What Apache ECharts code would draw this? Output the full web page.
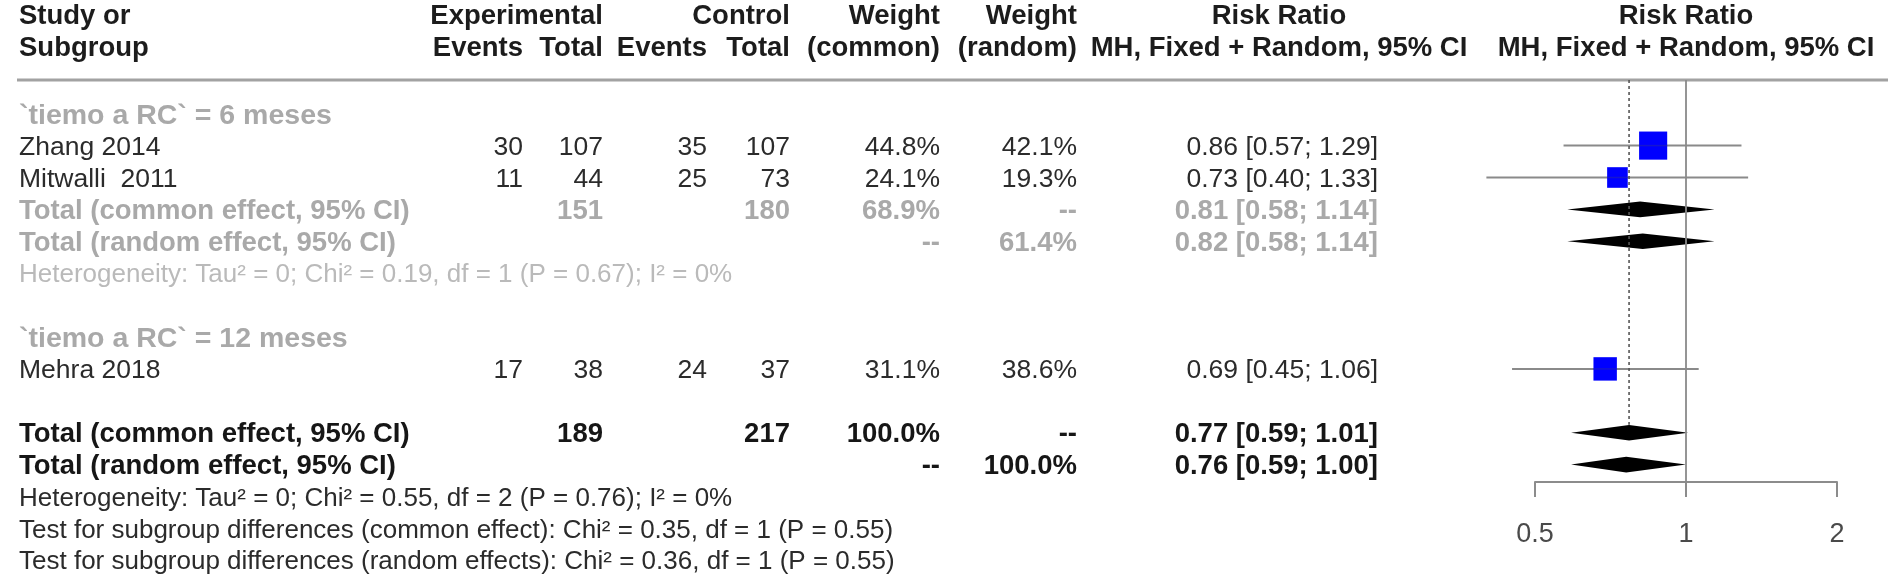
<!DOCTYPE html>
<html><head><meta charset="utf-8">
<script src="https://cdn.jsdelivr.net/npm/echarts@6/dist/echarts.min.js"></script>
<style>html,body{margin:0;padding:0;background:#fff}#c{width:1895px;height:588px}</style>
</head><body><div id="c"></div>
<script>
// ---------------- data ----------------
const studies      = ['Zhang 2014', 'Mitwalli  2011', 'Mehra 2018'];
const expEvents    = [30, 11, 17];
const expTotal     = [107, 44, 38];
const ctrlEvents   = [35, 25, 24];
const ctrlTotal    = [107, 73, 37];
const weightCommon = [44.8, 24.1, 31.1];
const weightRandom = [42.1, 19.3, 38.6];
const rr           = [0.86, 0.73, 0.69];
const rrLower      = [0.57, 0.40, 0.45];
const rrUpper      = [1.29, 1.33, 1.06];

const subgroupLabels = ['`tiemo a RC` = 6 meses', '`tiemo a RC` = 12 meses'];
const sub6ExpTotal  = 151;
const sub6CtrlTotal = 180;
const sub6Common    = [0.81, 0.58, 1.14];
const sub6Random    = [0.82, 0.58, 1.14];
const sub6WeightCommon = 68.9;
const sub6WeightRandom = 61.4;
const sub6Het = 'Heterogeneity: Tau² = 0; Chi² = 0.19, df = 1 (P = 0.67); I² = 0%';

const overallExpTotal  = 189;
const overallCtrlTotal = 217;
const overallCommon    = [0.77, 0.59, 1.01];
const overallRandom    = [0.76, 0.59, 1.00];
const overallWeight    = 100.0;
const footerLines = [
  'Heterogeneity: Tau² = 0; Chi² = 0.55, df = 2 (P = 0.76); I² = 0%',
  'Test for subgroup differences (common effect): Chi² = 0.35, df = 1 (P = 0.55)',
  'Test for subgroup differences (random effects): Chi² = 0.36, df = 1 (P = 0.55)'
];
const axisTicks = [0.5, 1, 2];

// ---------------- layout ----------------
const FONT = '"Liberation Sans", Arial, Helvetica, sans-serif';
const ROW0 = 18, ROWH = 31.9;           // px of row 0, row height
const H = 588, W = 1895;
const rowOf = px => (px - ROW0) / ROWH;
const COL = {study: 19, expEv: 523, expTot: 603, ctrlEv: 707, ctrlTot: 790,
             wC: 940, wR: 1077, rrText: 1378, rrHead: 1279, plotHead: 1686};
const studyRows = [4, 5, 11];
const ROWS = {sub6: 3, sub6C: 6, sub6R: 7, sub6Het: 8, sub12: 10, allC: 13, allR: 14, foot: 15};
const BLACK = '#2b2b2b', HEAD = '#1c1c1c', GRAY = '#a9a9a9', LGRAY = '#bababa';
const TEXT_DY = 2, HEAD_DY = -1.5;

const fmtW = w => w.toFixed(1) + '%';
const fmtRR = (e, l, u) => e.toFixed(2) + ' [' + l.toFixed(2) + '; ' + u.toFixed(2) + ']';

const cells = [];
function cell(x, row, text, align, opt) {
  cells.push(Object.assign({x, row, text: String(text), align, bold: false, color: BLACK}, opt || {}));
}
// headers
const hb = {bold: true, color: HEAD};
cell(COL.study, 0, 'Study or', 'left', hb);
cell(COL.study, 1, 'Subgroup', 'left', hb);
cell(COL.expTot, 0, 'Experimental', 'right', hb);
cell(COL.expEv, 1, 'Events', 'right', hb);
cell(COL.expTot, 1, 'Total', 'right', hb);
cell(COL.ctrlTot, 0, 'Control', 'right', hb);
cell(COL.ctrlEv, 1, 'Events', 'right', hb);
cell(COL.ctrlTot, 1, 'Total', 'right', hb);
cell(COL.wC, 0, 'Weight', 'right', hb);
cell(COL.wC, 1, '(common)', 'right', hb);
cell(COL.wR, 0, 'Weight', 'right', hb);
cell(COL.wR, 1, '(random)', 'right', hb);
cell(COL.rrHead, 0, 'Risk Ratio', 'center', hb);
cell(COL.rrHead, 1, 'MH, Fixed + Random, 95% CI', 'center', hb);
cell(COL.plotHead, 0, 'Risk Ratio', 'center', hb);
cell(COL.plotHead, 1, 'MH, Fixed + Random, 95% CI', 'center', hb);
// subgroup labels
cell(COL.study, ROWS.sub6, subgroupLabels[0], 'left', {bold: true, color: GRAY, size: 28.5});
cell(COL.study, ROWS.sub12, subgroupLabels[1], 'left', {bold: true, color: GRAY, size: 28.5});
// studies
studies.forEach((s, i) => {
  const r = studyRows[i];
  cell(COL.study, r, s, 'left');
  cell(COL.expEv, r, expEvents[i], 'right');
  cell(COL.expTot, r, expTotal[i], 'right');
  cell(COL.ctrlEv, r, ctrlEvents[i], 'right');
  cell(COL.ctrlTot, r, ctrlTotal[i], 'right');
  cell(COL.wC, r, fmtW(weightCommon[i]), 'right');
  cell(COL.wR, r, fmtW(weightRandom[i]), 'right');
  cell(COL.rrText, r, fmtRR(rr[i], rrLower[i], rrUpper[i]), 'right');
});
// subgroup totals
const gb = {bold: true, color: GRAY};
cell(COL.study, ROWS.sub6C, 'Total (common effect, 95% CI)', 'left', gb);
cell(COL.expTot, ROWS.sub6C, sub6ExpTotal, 'right', gb);
cell(COL.ctrlTot, ROWS.sub6C, sub6CtrlTotal, 'right', gb);
cell(COL.wC, ROWS.sub6C, fmtW(sub6WeightCommon), 'right', gb);
cell(COL.wR, ROWS.sub6C, '--', 'right', gb);
cell(COL.rrText, ROWS.sub6C, fmtRR(...sub6Common), 'right', gb);
cell(COL.study, ROWS.sub6R, 'Total (random effect, 95% CI)', 'left', gb);
cell(COL.wC, ROWS.sub6R, '--', 'right', gb);
cell(COL.wR, ROWS.sub6R, fmtW(sub6WeightRandom), 'right', gb);
cell(COL.rrText, ROWS.sub6R, fmtRR(...sub6Random), 'right', gb);
cell(COL.study, ROWS.sub6Het, sub6Het, 'left', {color: LGRAY, size: 26});
// overall
const bb = {bold: true, color: '#161616'};
cell(COL.study, ROWS.allC, 'Total (common effect, 95% CI)', 'left', bb);
cell(COL.expTot, ROWS.allC, overallExpTotal, 'right', bb);
cell(COL.ctrlTot, ROWS.allC, overallCtrlTotal, 'right', bb);
cell(COL.wC, ROWS.allC, fmtW(overallWeight), 'right', bb);
cell(COL.wR, ROWS.allC, '--', 'right', bb);
cell(COL.rrText, ROWS.allC, fmtRR(...overallCommon), 'right', bb);
cell(COL.study, ROWS.allR, 'Total (random effect, 95% CI)', 'left', bb);
cell(COL.wC, ROWS.allR, '--', 'right', bb);
cell(COL.wR, ROWS.allR, fmtW(overallWeight), 'right', bb);
cell(COL.rrText, ROWS.allR, fmtRR(...overallRandom), 'right', bb);
footerLines.forEach((t, i) => cell(COL.study, ROWS.foot + i, t, 'left', {size: 26}));

const SQUARE_K = 4.2;       // square side = k * sqrt(weight)
const DIAMOND_HALF = 7.8;
const HEADER_LINE_PX = 80, AXIS_PX = 482;

const chart = echarts.init(document.getElementById('c'), null, {renderer: 'canvas'});
chart.setOption({
  animation: false,
  backgroundColor: '#fff',
  grid: [
    {left: 0, right: 0, top: 0, bottom: 0},
    {left: 1535, right: W - 1837, top: HEADER_LINE_PX, bottom: H - AXIS_PX}
  ],
  xAxis: [
    {gridIndex: 0, type: 'value', min: 0, max: W, show: false},
    {gridIndex: 1, type: 'log', logBase: 2, min: axisTicks[0], max: axisTicks[axisTicks.length - 1],
     axisLine: {show: true, lineStyle: {color: '#8c8c8c', width: 2}},
     axisTick: {show: true, length: 15, lineStyle: {color: '#8c8c8c', width: 2}},
     axisLabel: {show: true, margin: 39, fontSize: 27, color: '#4a4a4a', fontFamily: FONT,
                 formatter: v => String(+v.toFixed(2))},
     splitLine: {show: false}, minorTick: {show: false}}
  ],
  yAxis: [
    {gridIndex: 0, type: 'value', inverse: true, min: rowOf(0), max: rowOf(H), show: false},
    {gridIndex: 1, type: 'value', inverse: true, min: rowOf(HEADER_LINE_PX), max: rowOf(AXIS_PX), show: false}
  ],
  series: [
    // header rule
    {type: 'line', xAxisIndex: 0, yAxisIndex: 0, silent: true, symbol: 'none',
     data: [[17, rowOf(HEADER_LINE_PX)], [1888, rowOf(HEADER_LINE_PX)]],
     lineStyle: {color: '#a2a2a2', width: 3}},
    // table text
    {type: 'custom', xAxisIndex: 0, yAxisIndex: 0, silent: true,
     data: cells.map(c => [c.x, c.row]),
     renderItem: (params, api) => {
       const c = cells[params.dataIndex];
       const p = api.coord([c.x, c.row]);
       const fs = c.size || (c.bold ? 27.5 : 26.5);
       const dy = c.row < 2 ? HEAD_DY : TEXT_DY;
       return {type: 'text', x: p[0], y: p[1] + dy,
               style: {text: c.text, align: c.align, verticalAlign: 'middle',
                       textAlign: c.align, textVerticalAlign: 'middle',
                       fill: c.color, fontSize: fs, fontWeight: c.bold ? 'bold' : 'normal', fontFamily: FONT}};
     }},
    // null line at 1
    {type: 'line', xAxisIndex: 1, yAxisIndex: 1, silent: true, symbol: 'none', data: [],
     markLine: {silent: true, symbol: 'none', label: {show: false},
                lineStyle: {color: '#8a8a8a', width: 1.8, type: 'solid'},
                data: [{xAxis: 1}]}},
    // dotted line at overall common estimate
    {type: 'line', xAxisIndex: 1, yAxisIndex: 1, silent: true, symbol: 'none',
     data: [[overallCommon[0], rowOf(HEADER_LINE_PX)], [overallCommon[0], ROWS.allC - 0.25]],
     lineStyle: {color: '#555', width: 1.6, type: [3, 3]}},
    // diamonds
    {type: 'custom', xAxisIndex: 1, yAxisIndex: 1, silent: true, clip: false,
     data: [[...sub6Common, ROWS.sub6C], [...sub6Random, ROWS.sub6R],
            [...overallCommon, ROWS.allC], [...overallRandom, ROWS.allR]],
     renderItem: (params, api) => {
       const e = api.value(0), l = api.value(1), u = api.value(2), r = api.value(3);
       const pe = api.coord([e, r]), pl = api.coord([l, r]), pu = api.coord([u, r]);
       return {type: 'polygon', shape: {points: [[pl[0], pe[1]], [pe[0], pe[1] - DIAMOND_HALF],
               [pu[0], pe[1]], [pe[0], pe[1] + DIAMOND_HALF]]}, style: {fill: '#000'}};
     }},
    // study CIs and squares
    {type: 'custom', xAxisIndex: 1, yAxisIndex: 1, silent: true, clip: false,
     data: studies.map((s, i) => [rr[i], studyRows[i]]),
     renderItem: (params, api) => {
       const i = params.dataIndex, r = studyRows[i];
       const pl = api.coord([rrLower[i], r]), pu = api.coord([rrUpper[i], r]), pe = api.coord([rr[i], r]);
       const s = SQUARE_K * Math.sqrt(weightCommon[i]);
       return {type: 'group', children: [
         {type: 'line', shape: {x1: pl[0], y1: pl[1], x2: pu[0], y2: pu[1]}, style: {stroke: '#8a8a8a', lineWidth: 2}},
         {type: 'rect', shape: {x: pe[0] - s / 2, y: pe[1] - s / 2, width: s, height: s}, style: {fill: '#0000ff'}},
         {type: 'line', shape: {x1: pe[0] - s / 2, y1: pe[1], x2: pe[0] + s / 2, y2: pe[1]}, style: {stroke: 'rgba(60,60,120,0.35)', lineWidth: 1.5}}
       ]};
     }}
  ]
});
</script></body></html>
